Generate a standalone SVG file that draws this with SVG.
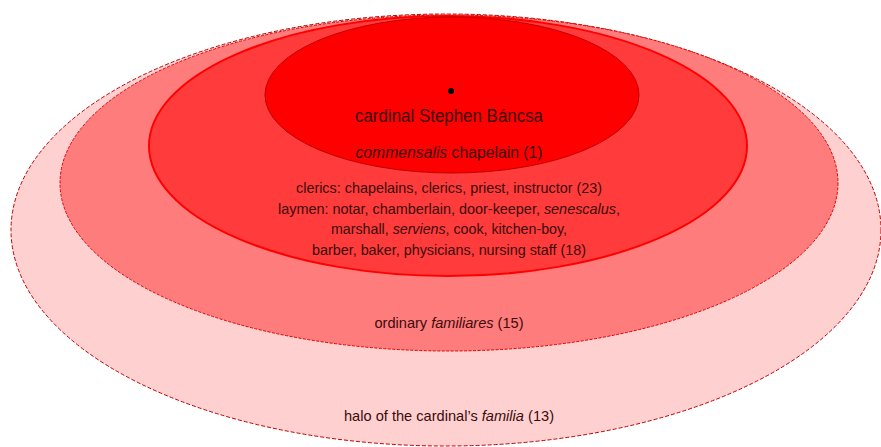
<svg xmlns="http://www.w3.org/2000/svg" width="881" height="447" viewBox="0 0 881 447">
<style>
.t{font-family:"Liberation Sans",Arial,sans-serif;fill:#3a0c0c;text-anchor:middle}
.i{font-style:italic}
</style>
<rect width="881" height="447" fill="#ffffff"/>
<g id="halo">
<ellipse cx="446" cy="230" rx="435" ry="216" fill="#FFD0D0" stroke="#C00000" stroke-width="1" stroke-dasharray="4 2"/>
<text class="t" x="449" y="421" font-size="15" textLength="210" lengthAdjust="spacingAndGlyphs">halo of the cardinal’s <tspan class="i">familia</tspan> (13)</text>
</g>
<g id="ordinary">
<ellipse cx="449" cy="183" rx="389" ry="168" fill="#FF7C7C" stroke="#E00000" stroke-width="1" stroke-dasharray="3 1.5"/>
<text class="t" x="449" y="328" font-size="15" textLength="149" lengthAdjust="spacingAndGlyphs">ordinary <tspan class="i">familiares</tspan> (15)</text>
</g>
<g id="household">
<ellipse cx="448" cy="146" rx="299" ry="130" fill="#FF3B3B" stroke="#FF0000" stroke-width="2"/>
<text class="t" x="449" y="193" font-size="14" textLength="306" lengthAdjust="spacingAndGlyphs">clerics: chapelains, clerics, priest, instructor (23)</text>
<text class="t" x="449" y="213.5" font-size="14" textLength="342" lengthAdjust="spacingAndGlyphs">laymen: notar, chamberlain, door-keeper, <tspan class="i">senescalus</tspan>,</text>
<text class="t" x="449" y="234" font-size="14" textLength="236" lengthAdjust="spacingAndGlyphs">marshall, <tspan class="i">serviens</tspan>, cook, kitchen-boy,</text>
<text class="t" x="449" y="254.5" font-size="14" textLength="274" lengthAdjust="spacingAndGlyphs">barber, baker, physicians, nursing staff (18)</text>
</g>
<g id="cardinal">
<ellipse cx="452" cy="95" rx="187" ry="78" fill="#FF0000" stroke="#C00000" stroke-width="1"/>
<circle cx="451" cy="91" r="3" fill="#000"/>
<text class="t" x="449" y="122" font-size="18" textLength="188" lengthAdjust="spacingAndGlyphs">cardinal Stephen Báncsa</text>
<text class="t" x="449" y="158" font-size="16" textLength="187" lengthAdjust="spacingAndGlyphs"><tspan class="i">commensalis</tspan> chapelain (1)</text>
</g>
<g id="connectors"/>
</svg>
